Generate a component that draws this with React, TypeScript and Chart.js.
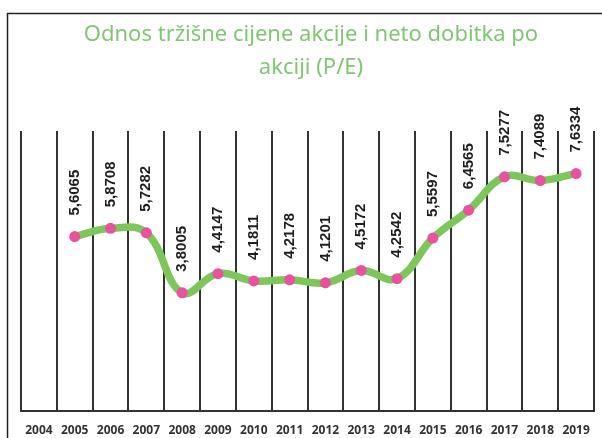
import React, { useEffect, useRef } from "react";
import { Chart, registerables } from "chart.js";

Chart.register(...registerables);

const years = ["2004","2005","2006","2007","2008","2009","2010","2011","2012","2013","2014","2015","2016","2017","2018","2019"];
const peValues: (number | null)[] = [null, 5.6065, 5.8708, 5.7282, 3.8005, 4.4147, 4.1811, 4.2178, 4.1201, 4.5172, 4.2542, 5.5597, 6.4565, 7.5277, 7.4089, 7.6334];
const titleLines = ["Odnos tržišne cijene akcije i neto dobitka po", "akciji (P/E)"];

const frameAndLabels = {
  id: "frameAndLabels",
  beforeDraw(chart: any) {
    const ctx = chart.ctx;
    ctx.save();
    ctx.fillStyle = "#ffffff";
    ctx.fillRect(0, 0, chart.width, chart.height);
    ctx.strokeStyle = "#222222";
    ctx.lineWidth = 1.5;
    ctx.strokeRect(7.5, 13.5, 700, 600);
    ctx.restore();
  },
  afterDatasetsDraw(chart: any) {
    const ctx = chart.ctx;
    const meta = chart.getDatasetMeta(0);
    ctx.save();
    ctx.fillStyle = "#1e1e1e";
    ctx.font = "bold 15px 'Liberation Sans', Arial, sans-serif";
    ctx.textAlign = "left";
    ctx.textBaseline = "middle";
    meta.data.forEach((pt: any, i: number) => {
      const v = peValues[i];
      if (v == null) return;
      ctx.save();
      ctx.translate(pt.x, pt.y - 21);
      ctx.rotate(-Math.PI / 2);
      ctx.fillText(v.toFixed(4).replace(".", ","), 0, 0);
      ctx.restore();
    });
    ctx.restore();
  },
};

export default function App() {
  const ref = useRef<HTMLCanvasElement | null>(null);
  useEffect(() => {
    if (!ref.current) return;
    const chart = new Chart(ref.current, {
      type: "line",
      data: {
        labels: years,
        datasets: [
          {
            data: peValues,
            borderColor: "#7dc65a",
            borderWidth: 7.5,
            tension: 0.4,
            pointBackgroundColor: "#e8529f",
            pointBorderColor: "#e8529f",
            pointRadius: 5.5,
            pointBorderWidth: 0,
            spanGaps: false,
          },
        ],
      },
      options: {
        animation: false,
        responsive: true,
        maintainAspectRatio: false,
        layout: { padding: { left: 21, right: 1, top: 0, bottom: 0 } },
        plugins: {
          legend: { display: false },
          tooltip: { enabled: false },
          title: {
            display: true,
            text: titleLines,
            color: "#7fc872",
            font: { family: "'Noto Sans', sans-serif", size: 22, weight: "normal", lineHeight: 1.5 },
            padding: { top: 18, bottom: 47 },
          },
        },
        scales: {
          x: {
            type: "category",
            offset: true,
            grid: { offset: true, color: "#333333", lineWidth: 2, drawTicks: false },
            border: { display: true, color: "#333333", width: 2 },
            ticks: {
              color: "#333333",
              padding: 12,
              maxRotation: 0,
              autoSkip: false,
              font: { family: "'Open Sans', sans-serif", size: 12, weight: "bold" },
            },
            afterFit(scale: any) {
              scale.height = 27;
            },
          },
          y: {
            display: false,
            min: 0,
            max: 9,
          },
        },
      },
      plugins: [frameAndLabels],
    });
    return () => chart.destroy();
  }, []);
  return (
    <div style={{ position: "fixed", left: 0, top: 0, width: 602, height: 438 }}>
      <canvas ref={ref} />
    </div>
  );
}
